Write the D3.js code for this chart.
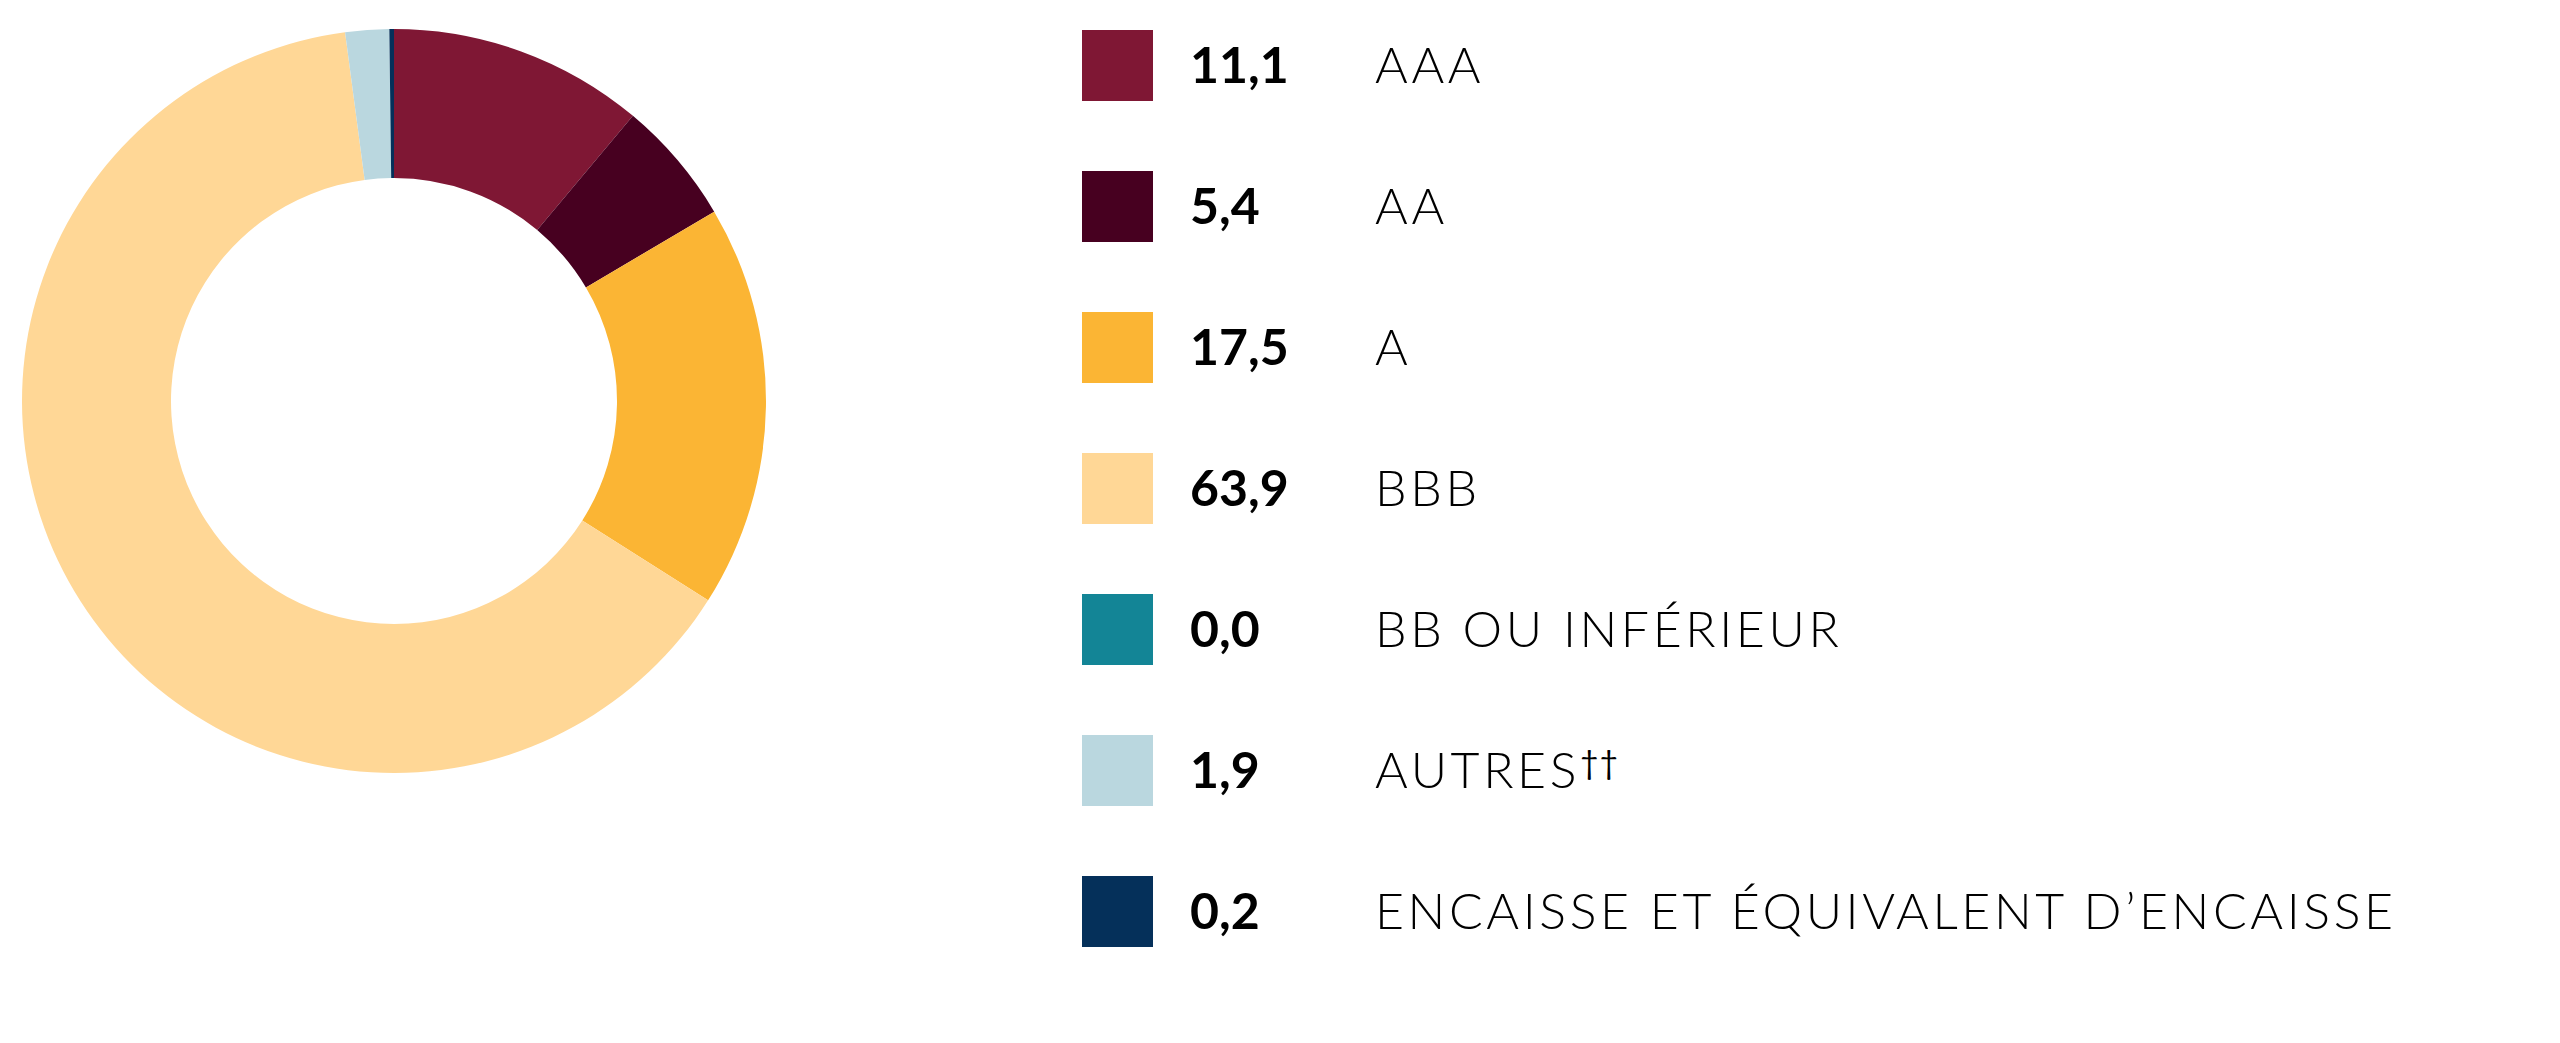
<!DOCTYPE html>
<html lang="fr">
<head>
<meta charset="utf-8">
<script src="https://cdn.jsdelivr.net/npm/d3@7"></script>
<style>
  html, body { margin: 0; padding: 0; background: #fff; }
  svg { display: block; }
</style>
</head>
<body>
<svg></svg>
<script>
"use strict";

// Data
const categories = ["AAA", "AA", "A", "BBB", "BB OU INFÉRIEUR", "AUTRES", "ENCAISSE ET ÉQUIVALENT D’ENCAISSE"];
const footnotes = ["", "", "", "", "", "††", ""];
const shares = [11.1, 5.4, 17.5, 63.9, 0.0, 1.9, 0.2];
const valueLabels = ["11,1", "5,4", "17,5", "63,9", "0,0", "1,9", "0,2"];
const colors = ["#7f1734", "#470020", "#fbb534", "#ffd796", "#138596", "#bad7df", "#05305a"];

const width = 2560;
const height = 1043;

const svg = d3.select("svg")
  .attr("width", width)
  .attr("height", height);

// Donut
const cx = 394, cy = 401;
const outerR = 372, innerR = 223;

const rows = categories.map((c, i) => ({ name: c, note: footnotes[i], value: shares[i], label: valueLabels[i], color: colors[i] }));

const pie = d3.pie()
  .sort(null)
  .value(d => d.value);

const arc = d3.arc()
  .innerRadius(innerR)
  .outerRadius(outerR);

svg.append("g")
  .attr("transform", `translate(${cx}, ${cy})`)
  .selectAll("path")
  .data(pie(rows))
  .join("path")
    .attr("d", arc)
    .attr("fill", d => d.data.color);

// Legend
const yRow = d3.scaleBand()
  .domain(categories)
  .range([30, 30 + 141 * categories.length])
  .paddingInner(0);

const legend = svg.append("g")
  .selectAll("g")
  .data(rows)
  .join("g")
    .attr("transform", d => `translate(0, ${yRow(d.name)})`);

legend.append("rect")
  .attr("x", 1082)
  .attr("width", 71)
  .attr("height", 71)
  .attr("fill", d => d.color);

legend.append("text")
  .attr("x", 1190)
  .attr("y", 53)
  .attr("font-family", "Lato, 'Noto Sans', sans-serif")
  .attr("font-weight", 700)
  .attr("font-size", 50)
  .attr("fill", "#000")
  .text(d => d.label);

const names = legend.append("text")
  .attr("x", 1375)
  .attr("y", 53)
  .attr("font-family", "Lato, 'Noto Sans', sans-serif")
  .attr("font-weight", 300)
  .attr("font-size", 50)
  .attr("letter-spacing", 3.6)
  .attr("fill", "#000");

names.append("tspan")
  .text(d => d.name);

// footnote daggers, small and raised
names.filter(d => d.note)
  .append("tspan")
    .attr("font-size", 32)
    .attr("font-weight", 400)
    .attr("dy", -14)
    .attr("letter-spacing", 1)
    .text(d => d.note);
</script>
</body>
</html>
